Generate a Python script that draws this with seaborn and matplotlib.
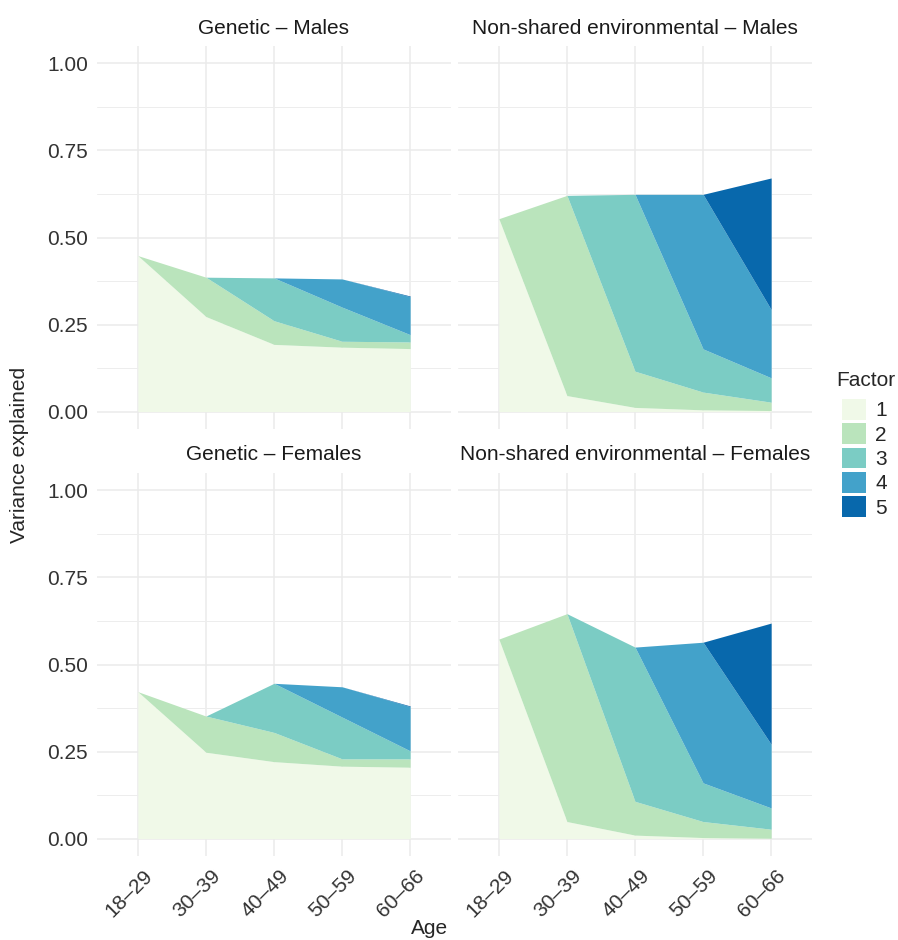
import seaborn as sns
import pandas as pd
import matplotlib.pyplot as plt
from matplotlib.patches import Patch
from matplotlib.ticker import MultipleLocator
from matplotlib.transforms import ScaledTranslation

ages = ["18–29", "30–39", "40–49", "50–59", "60–66"]
factors = ["1", "2", "3", "4", "5"]
colors = ["#f0f9e8", "#bae4bc", "#7bccc4", "#43a2ca", "#0868ac"]

# variance explained by each factor, per age group
gen_males = [
    [0.448, 0.273, 0.193, 0.185, 0.181],
    [0.000, 0.113, 0.068, 0.017, 0.019],
    [0.000, 0.000, 0.123, 0.098, 0.021],
    [0.000, 0.000, 0.000, 0.081, 0.109],
    [0.000, 0.000, 0.000, 0.000, 0.002],
]
nse_males = [
    [0.554, 0.046, 0.012, 0.005, 0.003],
    [0.000, 0.575, 0.104, 0.051, 0.024],
    [0.000, 0.000, 0.508, 0.124, 0.070],
    [0.000, 0.000, 0.000, 0.444, 0.196],
    [0.000, 0.000, 0.000, 0.000, 0.378],
]
gen_females = [
    [0.422, 0.248, 0.221, 0.208, 0.205],
    [0.000, 0.104, 0.084, 0.021, 0.024],
    [0.000, 0.000, 0.141, 0.120, 0.023],
    [0.000, 0.000, 0.000, 0.087, 0.127],
    [0.000, 0.000, 0.000, 0.000, 0.002],
]
nse_females = [
    [0.573, 0.049, 0.010, 0.003, 0.001],
    [0.000, 0.597, 0.097, 0.046, 0.026],
    [0.000, 0.000, 0.443, 0.111, 0.061],
    [0.000, 0.000, 0.000, 0.404, 0.183],
    [0.000, 0.000, 0.000, 0.000, 0.348],
]

panels = [
    ("Genetic – Males", gen_males),
    ("Non-shared environmental – Males", nse_males),
    ("Genetic – Females", gen_females),
    ("Non-shared environmental – Females", nse_females),
]

sns.set_theme(style="whitegrid")
plt.rcParams["font.family"] = ["Liberation Sans", "DejaVu Sans"]

fig = plt.figure(figsize=(8.98, 9.4), dpi=100)
W, H = 898, 940
boxes = [(97, 46), (458, 46), (97, 473), (458, 473)]
pw, ph = 354, 383
fs = 15

for i, ((title, vals), (x0, y0)) in enumerate(zip(panels, boxes)):
    ax = fig.add_axes([x0 / W, 1 - (y0 + ph) / H, pw / W, ph / H])
    df = pd.DataFrame(vals, index=factors, columns=ages)
    ax.stackplot(range(len(ages)), df.values, colors=colors, linewidth=0)
    ax.set_xlim(-0.6, 4.6)
    ax.set_ylim(-0.05, 1.05)
    ax.yaxis.set_major_locator(MultipleLocator(0.25))
    ax.yaxis.set_minor_locator(MultipleLocator(0.125))
    ax.set_xticks(range(len(ages)))
    ax.grid(which="major", color="#ebebeb", linewidth=1.1)
    ax.grid(which="minor", axis="y", color="#ededed", linewidth=0.7)
    ax.set_axisbelow(True)
    for s in ax.spines.values():
        s.set_visible(False)
    ax.tick_params(which="both", length=0, labelsize=fs, colors="#333333")
    ax.tick_params(axis="y", pad=6.5)
    ax.set_facecolor("white")
    ax.set_title(title, fontsize=fs, color="#1a1a1a", pad=9)
    if i % 2 == 0:
        ax.set_yticks([0, 0.25, 0.5, 0.75, 1.0])
        ax.set_yticklabels(["0.00", "0.25", "0.50", "0.75", "1.00"])
    else:
        ax.set_yticklabels([])
    if i >= 2:
        ax.set_xticklabels(ages, rotation=45, ha="right", va="top",
                           rotation_mode="anchor")
        off = ScaledTranslation(5 / 100, -5 / 100, fig.dpi_scale_trans)
        for lab in ax.get_xticklabels():
            lab.set_transform(lab.get_transform() + off)
    else:
        ax.set_xticklabels([])

fig.text(20 / W, 1 - 455 / H, "Variance explained", rotation=90, ha="center",
         va="center", fontsize=fs)
fig.text(430 / W, 1 - 928 / H, "Age", ha="center", va="center", fontsize=fs)

fig.text(836 / W, 1 - 381 / H, "Factor", ha="left", va="center", fontsize=fs)
handles = [Patch(facecolor=c, edgecolor="none", label=f) for c, f in zip(colors, factors)]
leg = fig.legend(handles=handles, loc="upper left",
                 bbox_to_anchor=(842 / W, 1 - 399 / H), frameon=False,
                 fontsize=fs, handlelength=1.15, handleheight=1.15,
                 labelspacing=0.14, handletextpad=0.45,
                 borderpad=0, borderaxespad=0)

plt.savefig("out.png", dpi=100)
